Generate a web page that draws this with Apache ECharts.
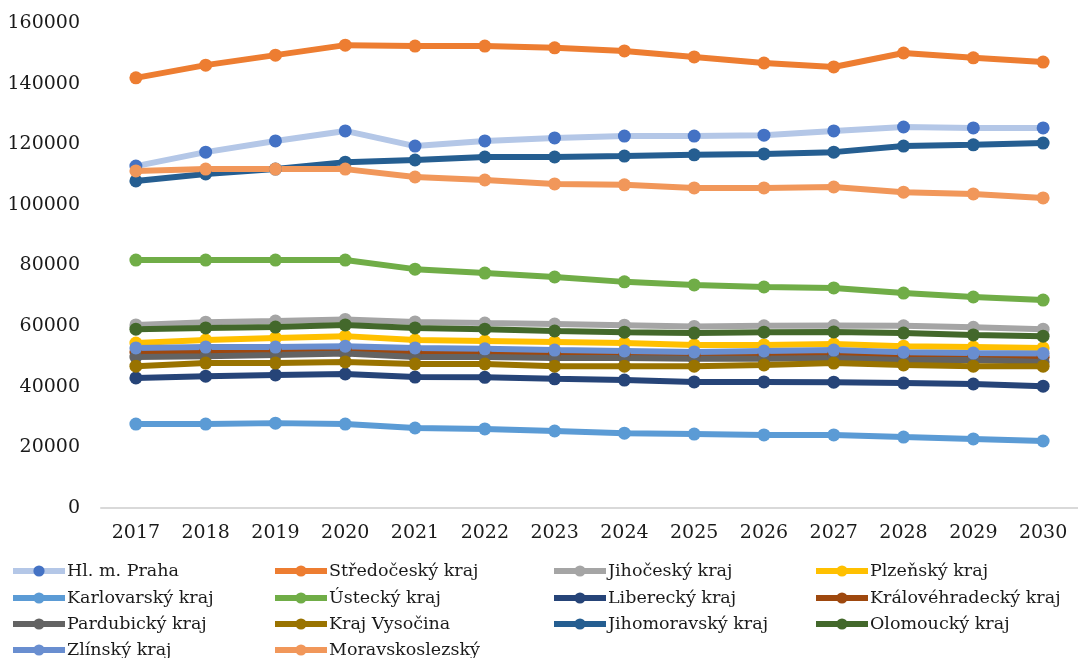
<!DOCTYPE html>
<html>
<head>
<meta charset="utf-8">
<script src="https://cdn.jsdelivr.net/npm/echarts@6/dist/echarts.min.js"></script>
<style>
html,body{margin:0;padding:0;background:#fff;}
#main{width:1078px;height:658px;}
</style>
</head>
<body>
<div id="main"></div>
<script>
var years = ['2017','2018','2019','2020','2021','2022','2023','2024','2025','2026','2027','2028','2029','2030'];
var yTicks = [0,20000,40000,60000,80000,100000,120000,140000,160000];

var praha          = [112800,117400,121100,124400,119400,121100,122100,122700,122700,123000,124400,125700,125400,125400];
var stredocesky    = [141900,146100,149400,152700,152400,152400,151800,150800,148800,146800,145500,150100,148500,147100];
var jihocesky      = [60400,61300,61700,62200,61400,61000,60700,60300,59900,60100,60200,60100,59600,59000];
var plzensky       = [54400,55400,56100,56700,55400,55100,54800,54400,53800,53800,54100,53400,53100,52800];
var karlovarsky    = [27700,27700,28000,27700,26400,26100,25400,24700,24400,24100,24100,23400,22800,22100];
var ustecky        = [81800,81800,81800,81800,78800,77500,76200,74600,73600,72900,72600,70900,69600,68600];
var liberecky      = [42900,43500,43900,44200,43200,43100,42600,42200,41600,41600,41500,41200,40900,40200];
var kralovehradecky= [51500,51700,51900,52200,51400,51100,50800,50500,50300,50500,50700,50200,49900,49700];
var pardubicky     = [49800,50100,50500,51000,49800,49800,49500,49500,49200,49200,49500,48800,48800,48200];
var vysocina       = [46800,47800,47800,48200,47500,47500,46800,46800,46800,47200,47800,47200,46800,46800];
var jihomoravsky   = [107900,110200,111800,114100,114800,115800,115800,116100,116500,116800,117400,119400,119800,120400];
var olomoucky      = [59000,59400,59700,60400,59400,59000,58400,58000,57700,58000,58100,57700,57100,56700];
var zlinsky        = [52800,53100,53100,53400,52800,52500,52100,51800,51500,51800,52100,51400,51100,51000];
var moravskoslezsky= [111200,111800,111800,111800,109200,108200,106900,106600,105600,105600,105900,104200,103600,102300];

var names = ['Hl. m. Praha','Středočeský kraj','Jihočeský kraj','Plzeňský kraj','Karlovarský kraj','Ústecký kraj','Liberecký kraj','Královéhradecký kraj','Pardubický kraj','Kraj Vysočina','Jihomoravský kraj','Olomoucký kraj','Zlínský kraj','Moravskoslezský'];
var values = [praha,stredocesky,jihocesky,plzensky,karlovarsky,ustecky,liberecky,kralovehradecky,pardubicky,vysocina,jihomoravsky,olomoucky,zlinsky,moravskoslezsky];
var lineColors = ['#b4c7e7','#ed7d31','#a5a5a5','#ffc000','#5b9bd5','#70ad47','#264478','#9e480e','#636363','#997300','#255e91','#43682b','#698ed0','#f1975a'];
var markerColors = ['#4472c4','#ed7d31','#a5a5a5','#ffc000','#5b9bd5','#70ad47','#264478','#9e480e','#636363','#997300','#255e91','#43682b','#698ed0','#f1975a'];

var FONT = 'DejaVu Serif';
var series = names.map(function(n,i){
  return {
    name: n, type: 'line', data: values[i],
    symbol: 'circle', symbolSize: 13,
    lineStyle: {width: 6, color: lineColors[i]},
    itemStyle: {color: markerColors[i]},
    emphasis: {disabled: true},
    animation: false
  };
});

// legend layout: 4 columns, items placed row by row
var colX = [10, 272, 551, 813];
var rowY = [562, 589, 615, 641];
var legends = names.map(function(n,i){
  return {
    left: colX[i % 4], top: rowY[Math.floor(i / 4)], data: [n],
    itemWidth: 52, itemHeight: 14, padding: 0,
    selectedMode: false,
    lineStyle: {width: 6},
    textStyle: {fontFamily: FONT, fontSize: 17.5, color: '#1a1a1a', padding: [0,0,0,-3]}
  };
});

var chart = echarts.init(document.getElementById('main'));
chart.setOption({
  animation: false,
  backgroundColor: '#fff',
  grid: {left: 101, right: -5, top: 23, bottom: 150},
  legend: legends,
  xAxis: {
    type: 'category', data: years, boundaryGap: true,
    axisLine: {show: true, lineStyle: {color: '#d9d9d9', width: 2}},
    axisTick: {show: false},
    axisLabel: {fontFamily: FONT, fontSize: 19, color: '#1a1a1a', margin: 16}
  },
  yAxis: {
    type: 'value', min: yTicks[0], max: yTicks[yTicks.length-1], interval: yTicks[1]-yTicks[0],
    axisLine: {show: false}, axisTick: {show: false}, splitLine: {show: false},
    axisLabel: {fontFamily: FONT, fontSize: 19, color: '#1a1a1a', margin: 21,
      formatter: function(v){ return String(v); }}
  },
  series: series
});
</script>
</body>
</html>
